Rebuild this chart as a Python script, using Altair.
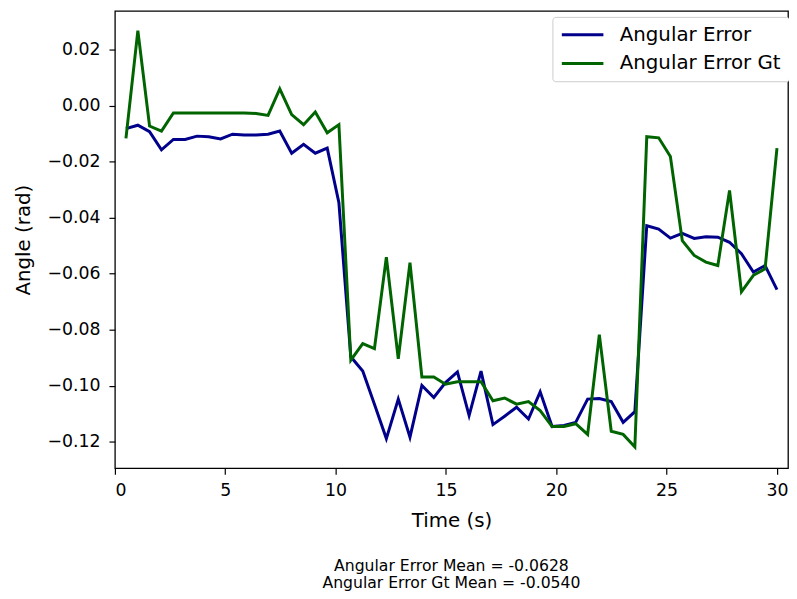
import altair as alt
import pandas as pd

time_s = [0.50, 1.04, 1.57, 2.11, 2.65, 3.18, 3.72, 4.25, 4.79, 5.33,
          5.86, 6.40, 6.94, 7.47, 8.01, 8.55, 9.08, 9.62, 10.15, 10.69,
          11.23, 11.76, 12.30, 12.84, 13.37, 13.91, 14.45, 14.98, 15.52, 16.05,
          16.59, 17.13, 17.66, 18.20, 18.74, 19.27, 19.81, 20.35, 20.88, 21.42,
          21.95, 22.49, 23.03, 23.56, 24.10, 24.64, 25.17, 25.71, 26.25, 26.78,
          27.32, 27.85, 28.39, 28.93, 29.46, 30.00]

angular_error = [-0.0082, -0.0070, -0.0093, -0.0158, -0.0121, -0.0121, -0.0109, -0.0111, -0.0119, -0.0102,
                 -0.0105, -0.0105, -0.0102, -0.0091, -0.0170, -0.0138, -0.0170, -0.0152, -0.0347, -0.0897,
                 -0.0948, -0.1066, -0.1189, -0.1048, -0.1184, -0.0999, -0.1042, -0.0989, -0.0951, -0.1107,
                 -0.0948, -0.1139, -0.1109, -0.1077, -0.1119, -0.1022, -0.1146, -0.1142, -0.1131, -0.1048,
                 -0.1046, -0.1057, -0.1131, -0.1093, -0.0429, -0.0441, -0.0473, -0.0456, -0.0474, -0.0468,
                 -0.0470, -0.0488, -0.0529, -0.0594, -0.0571, -0.0657]

angular_error_gt = [-0.0117, 0.0268, -0.0073, -0.0091, -0.0026, -0.0026, -0.0026, -0.0026, -0.0026, -0.0026,
                    -0.0026, -0.0028, -0.0035, 0.0060, -0.0032, -0.0068, -0.0023, -0.0097, -0.0068, -0.0909,
                    -0.0850, -0.0868, -0.0541, -0.0904, -0.0561, -0.0969, -0.0969, -0.0995, -0.0986, -0.0986,
                    -0.0986, -0.1054, -0.1044, -0.1066, -0.1057, -0.1089, -0.1146, -0.1146, -0.1136, -0.1174,
                    -0.0818, -0.1163, -0.1174, -0.1219, -0.0111, -0.0115, -0.0182, -0.0482, -0.0535, -0.0559,
                    -0.0571, -0.0303, -0.0665, -0.0606, -0.0583, -0.0152]

series_names = ["Angular Error", "Angular Error Gt"]
series_colors = ["#00008B", "#006400"]
x_ticks = [0, 5, 10, 15, 20, 25, 30]
y_ticks = [-0.12, -0.10, -0.08, -0.06, -0.04, -0.02, 0.00, 0.02]
notes = ["Angular Error Mean = -0.0628", "Angular Error Gt Mean = -0.0540"]

rows = []
for name, vals in zip(series_names, [angular_error, angular_error_gt]):
    for t, v in zip(time_s, vals):
        rows.append({"Time": t, "Angle": v, "Series": name})
df = pd.DataFrame(rows)

FONT = "DejaVu Sans"

lines = alt.Chart(df).mark_line(strokeWidth=3).encode(
    x=alt.X("Time:Q",
            scale=alt.Scale(domain=[0, 30.5], nice=False, zero=False),
            axis=alt.Axis(values=x_ticks, title="Time (s)", format="d")),
    y=alt.Y("Angle:Q",
            scale=alt.Scale(domain=[-0.1295, 0.0338], nice=False, zero=False),
            axis=alt.Axis(values=y_ticks, title="Angle (rad)", format=".2f")),
    color=alt.Color("Series:N",
                    scale=alt.Scale(domain=series_names, range=series_colors),
                    legend=alt.Legend(title=None, orient="none", legendX=442, legendY=6,
                                      symbolType="stroke", symbolSize=1764,
                                      symbolStrokeWidth=3, clipHeight=20,
                                      labelFontSize=20, labelFont=FONT, labelColor="black",
                                      strokeColor="#cccccc", fillColor="white",
                                      padding=8, rowPadding=9, cornerRadius=3,
                                      labelOffset=15, labelLimit=400)),
)

note_df = pd.DataFrame({"note": ["\n".join(notes)]})
note = alt.Chart(note_df).mark_text(
    lineBreak="\n", fontSize=15.8, font=FONT, color="black",
    align="center", baseline="middle", lineHeight=17
).encode(
    text="note:N",
    x=alt.value(340),
    y=alt.value(561),
)

chart = alt.layer(lines, note).properties(
    width=680, height=462,
    background="white",
    autosize=alt.AutoSizeParams(type="none"),
    padding={"left": 108, "top": 0, "right": 1, "bottom": 121},
).configure_view(
    stroke="black", strokeWidth=1.3, fill="white"
).configure_axis(
    grid=False, domain=False,
    tickColor="black", tickSize=6, tickWidth=1.2,
    labelFont=FONT, labelFontSize=17.5, labelColor="black",
    titleFont=FONT, titleFontSize=20, titleFontWeight="normal", titleColor="black",
).configure_axisX(
    labelPadding=8, titlePadding=11
).configure_axisY(
    labelPadding=9, titlePadding=14
)

chart.save("out.html", embed_options={"renderer": "svg", "actions": False})
